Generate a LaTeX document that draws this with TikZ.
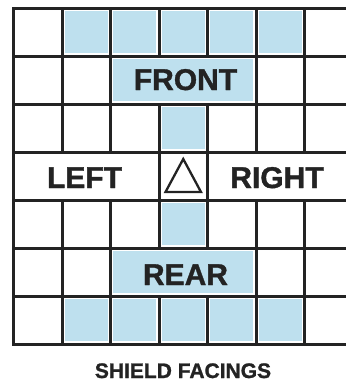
\documentclass[tikz,border=0pt]{standalone}
\usepackage{fontspec}
\setmainfont{Liberation Sans}[BoldFeatures={FakeBold=1.2}]
\definecolor{shieldblue}{RGB}{190,224,238}
\definecolor{ink}{RGB}{35,35,35}
\begin{document}
\begin{tikzpicture}[x=1pt,y=-1pt,
  gridline/.style={draw=ink,line width=3pt,line cap=rect},
  shade/.style={fill=shieldblue},
  facing/.style={font=\fontsize{30}{30}\selectfont\bfseries,text=ink,inner sep=0pt,anchor=base},
  caption/.style={font=\fontsize{21}{21}\selectfont\bfseries,text=ink,inner sep=0pt,anchor=base},
  marker/.style={draw=ink,line width=2.3pt,line join=miter}]
\useasboundingbox (0,0) rectangle (346,381);
\clip (0,0) rectangle (346,381);
% shaded cells (fill slightly inset from the lines)
\def\g{2.6}
\foreach \x in {62,110.5,159,207.5,256}{
  \fill[shade] (\x+\g,8+\g) rectangle (\x+48.5-\g,56-\g);
  \fill[shade] (\x+\g,296+\g) rectangle (\x+48.5-\g,344-\g);
}
\fill[shade] (110.5+\g,56+\g) rectangle (256-\g,104-\g);
\fill[shade] (159+\g,104+\g) rectangle (207.5-\g,152-\g);
\fill[shade] (159+\g,200+\g) rectangle (207.5-\g,248-\g);
\fill[shade] (110.5+\g,248+\g) rectangle (256-\g,296-\g);
% horizontal lines
\foreach \y in {8,56,104,152,200,248,296,344}{
  \draw[gridline] (13.5,\y) -- (353,\y);
}
% vertical lines
\draw[gridline] (13.5,8) -- (13.5,344);
\draw[gridline] (353,8) -- (353,344);
\foreach \x in {62,110.5,256,304.5}{
  \draw[gridline] (\x,8) -- (\x,152);
  \draw[gridline] (\x,200) -- (\x,344);
}
\foreach \x in {159,207.5}{
  \draw[gridline] (\x,8) -- (\x,56);
  \draw[gridline] (\x,104) -- (\x,248);
  \draw[gridline] (\x,296) -- (\x,344);
}
% triangle marker
\coordinate (apex) at (183.25,159);
\coordinate (bl) at (165.5,192);
\coordinate (br) at (201,192);
\draw[marker] (apex) -- (bl) -- (br) -- cycle;
% labels
\node[facing] (front) at (185.5,90) {FRONT};
\node[facing] (left) at (84.5,188) {LEFT};
\node[facing] (right) at (277,188) {RIGHT};
\node[facing] (rear) at (185.5,285) {REAR};
\node[caption] (cap) at (183,378) {SHIELD FACINGS};
\end{tikzpicture}
\end{document}
